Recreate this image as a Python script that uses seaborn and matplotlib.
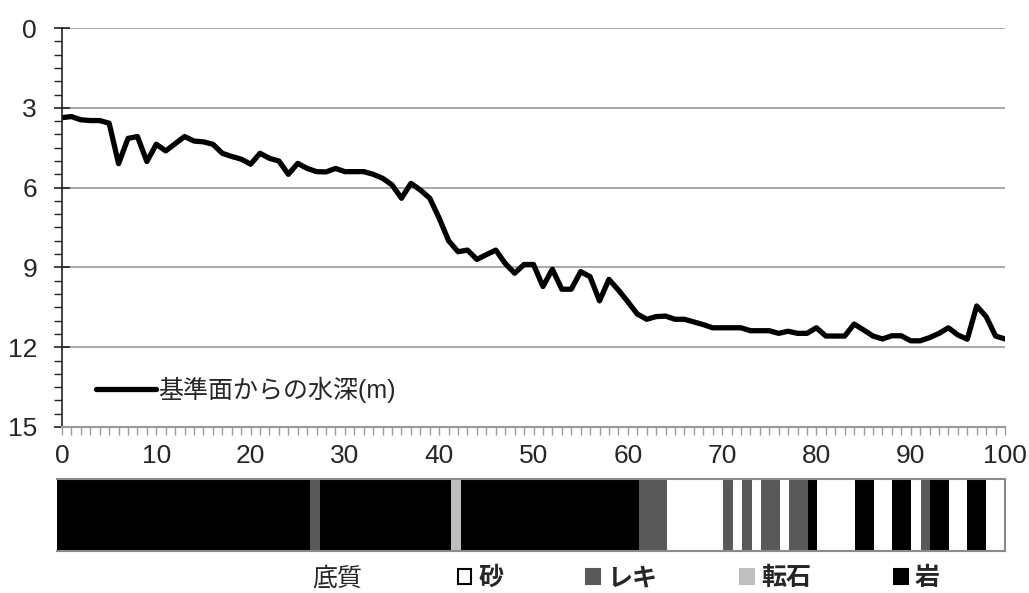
import numpy as np
import pandas as pd
import matplotlib
matplotlib.use("Agg")
import matplotlib.pyplot as plt
from matplotlib.patches import Patch
from matplotlib.ticker import MultipleLocator
import seaborn as sns

# distance along the section (0-100) and water depth below the datum (m)
distance = list(range(101))
depth = [
    3.37, 3.33, 3.45, 3.48, 3.48, 3.58, 5.10, 4.15, 4.08, 5.02,
    4.37, 4.62, 4.35, 4.08, 4.25, 4.28, 4.37, 4.71, 4.83, 4.93,
    5.12, 4.71, 4.90, 5.00, 5.50, 5.09, 5.28, 5.40, 5.41, 5.28,
    5.40, 5.40, 5.40, 5.50, 5.65, 5.90, 6.40, 5.84, 6.09, 6.40,
    7.15, 8.00, 8.41, 8.35, 8.70, 8.52, 8.35, 8.85, 9.22, 8.89,
    8.89, 9.72, 9.07, 9.82, 9.82, 9.16, 9.35, 10.26, 9.45, 9.85,
    10.29, 10.75, 10.95, 10.85, 10.83, 10.95, 10.95, 11.05, 11.15, 11.27,
    11.27, 11.27, 11.27, 11.38, 11.38, 11.38, 11.48, 11.40, 11.48, 11.48,
    11.27, 11.58, 11.58, 11.58, 11.13, 11.35, 11.58, 11.69, 11.57, 11.57,
    11.76, 11.76, 11.64, 11.48, 11.27, 11.54, 11.70, 10.45, 10.85, 11.58,
    11.69,
]

# substrate along the section as runs (type, number of 1-unit cells)
substrate_runs = [
    ("岩", 27), ("レキ", 1), ("岩", 14), ("転石", 1), ("岩", 19),
    ("レキ", 3), ("砂", 6), ("レキ", 1), ("砂", 1), ("レキ", 1),
    ("砂", 1), ("レキ", 2), ("砂", 1), ("レキ", 2), ("岩", 1),
    ("砂", 4), ("岩", 2), ("砂", 2), ("岩", 2), ("砂", 1),
    ("レキ", 1), ("岩", 2), ("砂", 2), ("岩", 2), ("砂", 2),
]
substrate_types = ["砂", "レキ", "転石", "岩"]
substrate_colors = {"砂": "#FFFFFF", "レキ": "#595959", "転石": "#BFBFBF", "岩": "#000000"}

sns.set_theme(style="white")
plt.rcParams["font.family"] = ["Liberation Sans", "Noto Sans CJK JP"]

df = pd.DataFrame({"distance": distance, "depth": depth})
cells = [t for t, n in substrate_runs for _ in range(n)]
sub = pd.DataFrame({"pos": range(len(cells)), "type": cells})

fig = plt.figure(figsize=(10.29, 5.93), dpi=100)
ax = fig.add_axes([62 / 1029, 1 - 427 / 593, 943 / 1029, 399 / 593])

sns.lineplot(data=df, x="distance", y="depth", color="black", linewidth=3.8,
             label="基準面からの水深(m)", ax=ax)
ax.set_xlim(0, 100)
ax.set_ylim(15, 0)
ax.yaxis.set_major_locator(MultipleLocator(3))
ax.yaxis.set_minor_locator(MultipleLocator(0.5))
ax.xaxis.set_major_locator(MultipleLocator(10))
ax.xaxis.set_minor_locator(MultipleLocator(1))
ax.grid(axis="y", which="major", color="#9a9a9a", linewidth=1.2)
ax.set_axisbelow(True)
for s in ["top", "right"]:
    ax.spines[s].set_visible(False)
ax.spines["left"].set_color("#222222")
ax.spines["bottom"].set_color("#9a9a9a")
ax.spines["left"].set_linewidth(1.2)
ax.spines["bottom"].set_linewidth(1.5)
ax.tick_params(axis="y", which="major", direction="inout", length=12, width=1.2,
               color="#222222", labelsize=19, pad=12, left=True)
ax.tick_params(axis="y", which="minor", direction="out", length=6, width=1,
               color="#222222", left=True)
ax.tick_params(axis="x", which="both", direction="out", length=6, width=1,
               color="#9a9a9a", labelsize=19, pad=6, bottom=True)
ax.set_xlabel("")
ax.set_ylabel("")
ax.legend(loc="center left", bbox_to_anchor=(0.012, 0.093), frameon=False,
          fontsize=18, handlelength=2.4, handletextpad=0.1)

# substrate strip
bx = fig.add_axes([57 / 1029, 1 - 551 / 593, 948 / 1029, 72 / 593])
bx.bar(sub["pos"], 1, width=1.0, color=[substrate_colors[t] for t in sub["type"]],
       linewidth=0)
bx.set_xlim(-0.5, 100.5)
bx.set_ylim(0, 1)
bx.set_xticks([])
bx.set_yticks([])
for s in bx.spines.values():
    s.set_color("#8a8a8a")
    s.set_linewidth(1.5)
bx.spines["left"].set_visible(False)

fig.text(337 / 1029, 1 - 578 / 593, "底質", ha="center", va="center", fontsize=18)
handles = [Patch(facecolor=substrate_colors[t], edgecolor="black" if t == "砂" else substrate_colors[t],
                 linewidth=1.5) for t in substrate_types]
leg = fig.legend(handles, substrate_types, loc="center left",
                 bbox_to_anchor=(435 / 1029, 1 - 578 / 593), ncol=4, frameon=False,
                 handlelength=0.55, handleheight=0.55, handletextpad=0.3,
                 columnspacing=3.3, prop={"size": 18, "weight": "bold"})

fig.savefig("out.png", dpi=100)
